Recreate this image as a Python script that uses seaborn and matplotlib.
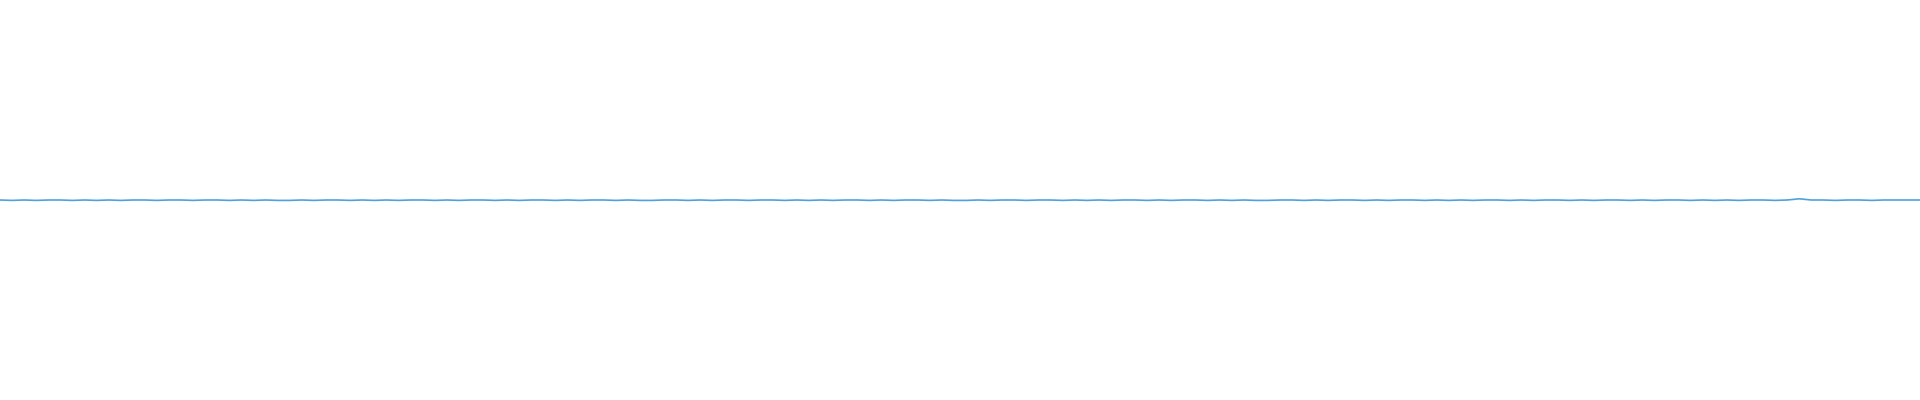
import matplotlib
matplotlib.use("Agg")
import matplotlib.pyplot as plt
import seaborn as sns
import pandas as pd

# Data: near-flat signal with tiny dips
signal = [
    0, -0.002, 0, -0.002, 0, 0, -0.002, 0, -0.002, 0, -0.002, 0, 0, -0.002, 0, 0,
    -0.002, 0, 0, -0.002, 0, -0.002, 0, -0.002, -0.002, 0, -0.002, 0, 0, -0.002, 0, -0.002,
    0, -0.002, 0, 0, -0.002, 0, -0.002, 0, 0, -0.002, 0, -0.002, 0, 0, -0.002, 0,
    -0.002, 0, 0, -0.002, 0, -0.002, -0.002, 0, 0, -0.002, 0, -0.002, 0, 0, -0.002, 0,
    0, -0.002, 0, -0.002, 0, -0.002, 0, 0, -0.002, 0, -0.002, 0, 0, -0.002, 0, -0.002,
    -0.002, 0, -0.002, 0, 0, -0.002, 0, 0, -0.002, 0, -0.002, 0, -0.002, 0, 0, -0.002,
    0, -0.002, 0, 0, -0.002, 0, -0.002, 0, -0.002, -0.002, 0, 0, -0.002, 0, -0.002, 0,
    0, -0.002, 0, -0.002, 0, 0, -0.002, 0, -0.002, 0, -0.002, 0, 0, -0.002, 0, -0.002,
    0, 0, -0.002, 0, -0.002, 0, 0, -0.002, 0, -0.002, 0, 0, -0.002, 0, -0.002, 0,
    -0.002, 0, 0, -0.002, 0, 0.006, 0, 0, -0.002, 0, 0, -0.002, 0, 0, 0, 0,
]
step = list(range(len(signal)))

df = pd.DataFrame({"step": step, "value": signal})

sns.set_theme(style="white")
fig = plt.figure(figsize=(19.2, 4), dpi=100)
ax = fig.add_axes([0, 0, 1, 1])
sns.lineplot(data=df, x="step", y="value", ax=ax, color="#4fa3dc", linewidth=1.2)
ax.set_xlim(0, len(signal) - 1)
ax.set_ylim(-1, 1)
ax.axis("off")

fig.savefig("out.png", dpi=100)
